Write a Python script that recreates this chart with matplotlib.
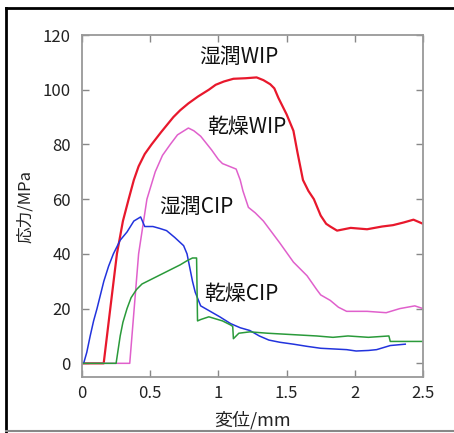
import numpy as np
import matplotlib
matplotlib.use("Agg")
import matplotlib.pyplot as plt
from matplotlib.lines import Line2D

plt.rcParams["font.family"] = ["Noto Sans CJK JP", "DejaVu Sans"]

# 湿潤WIP
wet_wip_x = [0, 0.159, 0.2, 0.256, 0.30, 0.342, 0.38, 0.415, 0.46, 0.51, 0.58, 0.67, 0.72,
             0.78, 0.85, 0.93, 0.98, 1.04, 1.11, 1.2, 1.28, 1.33, 1.38, 1.41, 1.44, 1.5,
             1.55, 1.58, 1.62, 1.66, 1.70, 1.75, 1.79, 1.82, 1.87, 1.97, 2.09, 2.2, 2.28,
             2.36, 2.43, 2.5]
wet_wip_y = [0, 0, 17, 40, 52, 60, 67, 72, 76.5, 80, 84.5, 90, 92.5,
             95, 97.5, 100, 101.8, 103, 104, 104.2, 104.5, 103.5, 102, 100.5, 97, 91,
             85, 77, 67, 63, 60, 54, 51, 50, 48.5, 49.5, 49, 50, 50.5,
             51.5, 52.5, 51]
# 乾燥WIP
dry_wip_x = [0, 0.35, 0.415, 0.476, 0.537, 0.59, 0.647, 0.70, 0.78, 0.82, 0.87, 0.95, 1.0,
             1.03, 1.08, 1.13, 1.16, 1.18, 1.22, 1.27, 1.33, 1.45, 1.55, 1.65, 1.72, 1.75,
             1.82, 1.88, 1.94, 2.09, 2.23, 2.33, 2.44, 2.5]
dry_wip_y = [0, 0, 40, 60, 70, 76, 80, 83.5, 86, 85, 83, 78, 74.5,
             73, 72, 71, 67, 63, 57, 55, 52, 44, 37, 32, 27, 25,
             23, 20.5, 19, 19, 18.5, 20, 21, 20]
# 湿潤CIP
wet_cip_x = [0, 0.012, 0.035, 0.06, 0.085, 0.11, 0.135, 0.16, 0.195, 0.23, 0.28, 0.33, 0.38,
             0.43, 0.46, 0.52, 0.57, 0.62, 0.68, 0.745, 0.77, 0.79, 0.81, 0.83, 0.87, 0.94,
             1.01, 1.09, 1.16, 1.23, 1.30, 1.37, 1.45, 1.55, 1.65, 1.75, 1.94, 2.01, 2.10,
             2.16, 2.26, 2.37]
wet_cip_y = [0, 0, 4, 10, 15.5, 20, 25, 30, 35.5, 40, 45, 48, 52,
             53.5, 50, 50, 49.3, 48.5, 46, 43, 40, 35, 30, 26, 21, 19,
             17, 14.5, 13, 12, 10, 8.5, 7.7, 7, 6.2, 5.5, 5, 4.5, 4.7,
             5, 6.5, 7]
# 乾燥CIP
dry_cip_x = [0, 0.25, 0.265, 0.28, 0.30, 0.33, 0.36, 0.40, 0.44, 0.48, 0.54, 0.60, 0.66,
             0.72, 0.77, 0.81, 0.84, 0.847, 0.87, 0.93, 1.03, 1.09, 1.105, 1.11, 1.15, 1.23,
             1.36, 1.72, 1.84, 1.95, 2.1, 2.25, 2.26, 2.5]
dry_cip_y = [0, 0, 5, 10, 15, 20, 24, 27, 29, 30, 31.5, 33, 34.5,
             36, 37.5, 38.5, 38.5, 15.5, 16, 17, 15.5, 14, 13.5, 9, 11, 11.5,
             11, 10, 9.5, 10, 9.5, 10, 8, 8]

fig = plt.figure(figsize=(4.54, 4.33), dpi=100)
ax = fig.add_axes([82/454, 1-377/433, (423-82)/454, (377-35)/433])

ax.plot(wet_wip_x, wet_wip_y, color="#e8182c", lw=1.6)
ax.plot(dry_wip_x, dry_wip_y, color="#e060cc", lw=1.1)
ax.plot(wet_cip_x, wet_cip_y, color="#2233dd", lw=1.1)
ax.plot(dry_cip_x, dry_cip_y, color="#2a9a3a", lw=1.1)

ax.set_xlim(0, 2.5)
ax.set_ylim(-5, 120)
ax.set_xticks([0, 0.5, 1, 1.5, 2, 2.5])
ax.set_xticklabels(["0", "0.5", "1", "1.5", "2", "2.5"])
ax.set_yticks([0, 20, 40, 60, 80, 100, 120])

for s in ax.spines.values():
    s.set_color("#999999")
    s.set_linewidth(1.3)
ax.tick_params(direction="in", top=True, right=True, length=5, width=1,
               color="#888888", labelsize=12, labelcolor="#222222")
ax.tick_params(axis="y", pad=8)
ax.tick_params(axis="x", pad=6)

ax.set_xlabel("変位/mm", fontsize=13, color="#222222", labelpad=6)
ax.set_ylabel("応力/MPa", fontsize=12, color="#222222", labelpad=6)

lab = dict(fontsize=15, color="#111111", ha="center", va="center")
ax.text(1.15, 112, "湿潤WIP", **lab)
ax.text(1.21, 86.5, "乾燥WIP", **lab)
ax.text(0.84, 57, "湿潤CIP", **lab)
ax.text(1.17, 25.5, "乾燥CIP", **lab)

# outer frame
fig.add_artist(Line2D([6/454, 1], [1-8/433, 1-8/433], color="black", lw=2))
fig.add_artist(Line2D([6/454, 6/454], [1-8/433, 0], color="black", lw=2))
fig.add_artist(Line2D([6/454, 1], [1-431/433, 1-431/433], color="#888888", lw=1.5))

fig.savefig("out.png", dpi=100)
